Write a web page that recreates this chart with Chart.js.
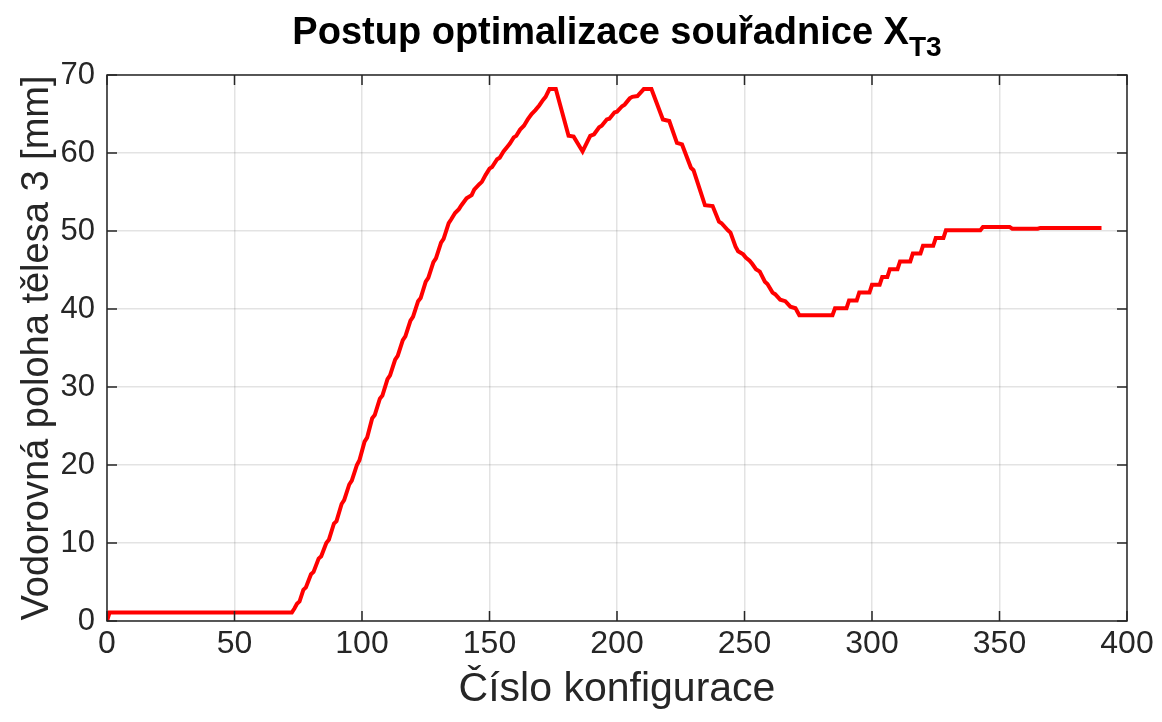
<!DOCTYPE html>
<html>
<head>
<meta charset="utf-8">
<script src="https://cdn.jsdelivr.net/npm/chart.js@4/dist/chart.umd.min.js"></script>
<style>
  html, body { margin: 0; padding: 0; background: #fff; }
  #wrap { width: 1162px; height: 722px; }
</style>
</head>
<body>
<div id="wrap"><canvas id="c" width="1162" height="722"></canvas></div>
<script>
// Configuration index (x) and horizontal position of body 3 in mm (y)
const configIndex = [
  0, 1, 72.5, 73.5, 74.5, 75.5, 77, 78, 80, 81, 83, 84, 86, 87, 89, 90, 92, 93, 95, 96,
  98, 99, 101, 102, 104, 105, 107, 108, 110, 111, 113, 114, 116, 117, 119, 120, 122, 123,
  125, 126, 128, 129, 131, 132, 134, 135, 136.5, 138, 139, 141, 143, 144, 146, 147, 148.5,
  150, 151, 153, 154, 155.5, 157, 158, 159.5, 160.5, 162, 163.5, 165, 166.5, 168, 169.5,
  171, 172, 173.5, 176, 181, 183, 186.5, 189.5, 191, 193, 194, 196, 197, 199, 200, 202,
  203, 205, 206, 208, 210.5, 213.5, 218, 220.5, 223.5, 225.5, 229, 230, 232.5, 234.5,
  237.5, 240, 241, 243.5, 244.5, 246.5, 247.5, 249.5, 250.5, 252, 253, 254.5, 256, 258,
  259, 261, 262, 264, 266, 268, 270, 271.5, 284.5, 285.5, 290, 291, 294, 295, 299, 300,
  303, 304, 306, 307, 310, 311, 315, 316, 319, 320, 324, 325, 328, 329, 342.5, 343.5,
  354, 355, 365, 366, 390
];
const positionMm = [
  0, 1.1, 1.1, 1.6, 2.2, 2.5, 4, 4.3, 6, 6.3, 8, 8.3, 10, 10.4, 12.5, 12.8, 15, 15.5, 17.5, 18,
  20, 20.6, 23, 23.5, 26, 26.4, 28.5, 28.9, 31, 31.5, 33.5, 34, 36, 36.5, 38.5, 39, 41, 41.4,
  43.5, 44, 46, 46.5, 48.5, 49, 51, 51.5, 52.3, 52.8, 53.3, 54.2, 54.6, 55.3, 56, 56.3, 57.2,
  58, 58.2, 59.2, 59.4, 60.2, 60.8, 61.2, 62, 62.2, 63, 63.5, 64.3, 65, 65.5, 66.1,
  66.8, 67.2, 68.2, 68.2, 62.2, 62.1, 60.2, 62.2, 62.4, 63.3, 63.5, 64.3, 64.4, 65.2, 65.3, 66,
  66.2, 67, 67.2, 67.3, 68.2, 68.2, 64.3, 64.1, 61.3, 61.1, 58.1, 57.8, 55.3, 53.3,
  53.2, 51.2, 51, 50.1, 49.8, 48, 47.4, 47, 46.6, 46.2, 45.8, 45.1, 44.8, 43.5,
  43.2, 42.1, 41.9, 41.2, 41, 40.3, 40.1, 39.2, 39.2, 40.1, 40.1, 41.1, 41.1, 42.1, 42.1, 43.1,
  43.1, 44.1, 44.1, 45.1, 45.1, 46.1, 46.1, 47.1, 47.1, 48.1, 48.1, 49.1, 49.1, 50.1, 50.1, 50.5,
  50.5, 50.3, 50.3, 50.4, 50.4
];
const xTicks = [0, 50, 100, 150, 200, 250, 300, 350, 400];
const yTicks = [0, 10, 20, 30, 40, 50, 60, 70];

const titleMain = 'Postup optimalizace souřadnice X';
const titleSub = 'T3';
const xLabel = 'Číslo konfigurace';
const yLabel = 'Vodorovná poloha tělesa 3 [mm]';

const axisColor = '#262626';
const fontFamily = '"Liberation Sans", Arial, Helvetica, sans-serif';

// Title with subscript, tick marks pointing inward, and a closed box around the axes
const framePlugin = {
  id: 'frame',
  afterDraw(chart) {
    const { ctx, chartArea: a, scales } = chart;
    ctx.save();
    // closed box
    ctx.strokeStyle = axisColor;
    ctx.lineWidth = 1.5;
    ctx.strokeRect(a.left, a.top, a.right - a.left, a.bottom - a.top);
    // inward ticks
    const len = 10;
    ctx.beginPath();
    xTicks.forEach(v => {
      const px = scales.x.getPixelForValue(v);
      ctx.moveTo(px, a.bottom); ctx.lineTo(px, a.bottom - len);
      ctx.moveTo(px, a.top); ctx.lineTo(px, a.top + len);
    });
    yTicks.forEach(v => {
      const py = scales.y.getPixelForValue(v);
      ctx.moveTo(a.left, py); ctx.lineTo(a.left + len, py);
      ctx.moveTo(a.right, py); ctx.lineTo(a.right - len, py);
    });
    ctx.stroke();

    // title with subscript
    ctx.fillStyle = '#000';
    ctx.textBaseline = 'alphabetic';
    ctx.textAlign = 'left';
    const mainFont = 'bold 38px ' + fontFamily;
    const subFont = 'bold 28px ' + fontFamily;
    ctx.font = mainFont;
    const wMain = ctx.measureText(titleMain).width;
    ctx.font = subFont;
    const wSub = ctx.measureText(titleSub).width;
    const cx = (a.left + a.right) / 2;
    const x0 = cx - (wMain + wSub) / 2;
    ctx.font = mainFont;
    ctx.fillText(titleMain, x0, 44);
    ctx.font = subFont;
    ctx.fillText(titleSub, x0 + wMain, 56);
    ctx.restore();
  }
};

const points = configIndex.map((x, i) => ({ x, y: positionMm[i] }));

new Chart(document.getElementById('c'), {
  type: 'scatter',
  data: {
    datasets: [{
      data: points,
      showLine: true,
      borderColor: '#ff0000',
      backgroundColor: '#ff0000',
      borderWidth: 4,
      pointRadius: 0,
      tension: 0
    }]
  },
  options: {
    responsive: false,
    animation: false,
    layout: { padding: { top: 75, right: 35, left: 0, bottom: 0 } },
    plugins: {
      legend: { display: false },
      title: { display: false },
      tooltip: { enabled: false }
    },
    scales: {
      x: {
        type: 'linear',
        min: 0, max: 400,
        afterFit(s) { s.height = 101; },
        afterBuildTicks(s) { s.ticks = xTicks.map(v => ({ value: v })); },
        grid: { color: 'rgba(0,0,0,0.11)', lineWidth: 1.5, drawTicks: false },
        border: { display: false },
        ticks: { color: axisColor, padding: 4, font: { family: fontFamily, size: 32 }, maxRotation: 0 },
        title: { display: true, text: xLabel, color: axisColor, font: { family: fontFamily, size: 41 }, padding: { top: 0, bottom: 8 } }
      },
      y: {
        type: 'linear',
        min: 0, max: 70,
        afterFit(s) { s.width = 107; },
        afterBuildTicks(s) { s.ticks = yTicks.map(v => ({ value: v })); },
        grid: { color: 'rgba(0,0,0,0.11)', lineWidth: 1.5, drawTicks: false },
        border: { display: false },
        ticks: { color: axisColor, padding: 12, font: { family: fontFamily, size: 31 } },
        title: { display: true, text: yLabel, color: axisColor, font: { family: fontFamily, size: 38 }, padding: { top: 15, bottom: 0 } }
      }
    }
  },
  plugins: [framePlugin]
});
</script>
</body>
</html>
